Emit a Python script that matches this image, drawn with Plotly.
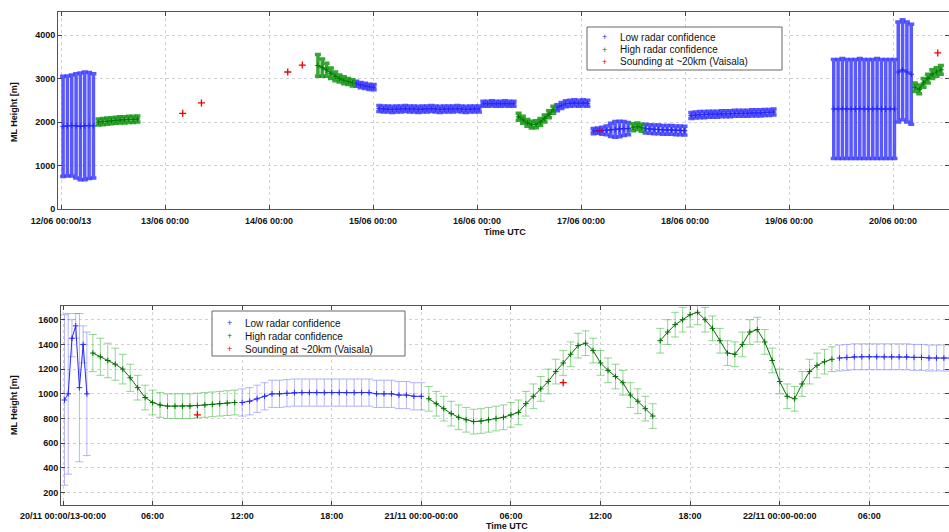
import plotly.graph_objects as go

# ---------------- DATA ----------------
# Top panel: time in days since 12/06 00:00, ML height [m]
TOP_TICK_VALS = [0, 1, 2, 3, 4, 5, 6, 7, 8]
TOP_TICK_TEXT = ["12/06 00:00/13", "13/06 00:00", "14/06 00:00", "15/06 00:00",
                 "16/06 00:00", "17/06 00:00", "18/06 00:00", "19/06 00:00", "20/06 00:00"]
TOP_STEP = 1.0 / 24.0  # radar samples, hourly

# segments: (start_day, values, errors)
top_low = [
    (0.02, [1900, 1910, 1920, 1910, 1900, 1910, 1920, 1910],
           [1150, 1150, 1160, 1200, 1230, 1240, 1220, 1200]),
    (2.84, [2880, 2850, 2830, 2810, 2800], [60, 60, 60, 60, 60]),
    (3.06, [2310, 2300, 2300, 2290, 2300, 2300, 2310, 2300, 2300, 2290, 2300, 2300,
            2310, 2300, 2290, 2300, 2300, 2300, 2310, 2300, 2290, 2300, 2300, 2300],
           [70] * 24),
    (4.06, [2420, 2420, 2430, 2420, 2420, 2430, 2420, 2420], [60] * 8),
    (4.77, [2330, 2380, 2420, 2430, 2440, 2430, 2440, 2430], [70] * 8),
    (5.12, [1790, 1800, 1800, 1810, 1820, 1830, 1840, 1850, 1850],
           [60, 60, 80, 100, 150, 180, 180, 160, 140]),
    (5.62, [1850, 1840, 1830, 1830, 1820, 1820, 1820, 1810, 1810, 1800], [100] * 10),
    (6.06, [2150, 2160, 2170, 2170, 2180, 2180, 2180, 2190, 2190, 2190,
            2200, 2200, 2200, 2200, 2210, 2210, 2210, 2220, 2220, 2230], [70] * 20),
    (7.43, [2300, 2300, 2310, 2300, 2300, 2300, 2310, 2300, 2300, 2300, 2310, 2300,
            2300, 2300, 2300],
           [1140, 1140, 1150, 1140, 1140, 1140, 1150, 1140, 1140, 1140, 1150, 1140,
            1140, 1140, 1140]),
    (8.05, [3150, 3200, 3150, 3100], [1150, 1150, 1150, 1150]),
]
top_high = [
    (0.36, [2000, 2010, 2020, 2030, 2040, 2050, 2050, 2060, 2060, 2070], [70] * 10),
    (2.47, [3300, 3250, 3200, 3120, 3050, 3000, 2960, 2930, 2900],
           [250, 200, 150, 120, 100, 80, 80, 70, 70]),
    (4.40, [2120, 2050, 1980, 1940, 1950, 2000, 2080, 2180, 2280], [80] * 9),
    (5.50, [1880, 1900, 1870], [80, 80, 80]),
    (8.21, [2800, 2750, 2900, 3000, 3100, 3150, 3200], [100] * 7),
]
top_sound_t = [1.17, 1.35, 2.18, 2.32, 5.18, 8.43]
top_sound_v = [2200, 2440, 3150, 3310, 1790, 3590]

# Bottom panel: time in hours since 20/11 00:00
BOT_TICK_VALS = [0, 6, 12, 18, 24, 30, 36, 42, 48, 54]
BOT_TICK_TEXT = ["20/11 00:00/13-00:00", "06:00", "12:00", "18:00", "21/11 00:00-00:00",
                 "06:00", "12:00", "18:00", "22/11 00:00-00:00", "06:00"]

# segments: (start_h, step_h, values, errors)
bot_low = [
    (0.1, 0.25, [950, 1000, 1450, 1550, 1050, 1400, 1000],
                [690, 650, 150, 100, 600, 150, 500]),
    (12.0, 0.5, [930, 940, 960, 980, 1000, 1000, 1005, 1010, 1010, 1010, 1010, 1010, 1010,
                 1010, 1010, 1010, 1010, 1010, 1000, 1000, 1000, 990, 990, 980, 980],
                [110] * 25),
    (52.0, 0.5, [1290, 1295, 1300, 1300, 1300, 1300, 1300, 1300, 1300, 1300, 1295, 1295,
                 1290, 1290, 1290, 1290], [105] * 16),
]
bot_high = [
    (2.0, 0.5, [1330, 1300, 1270, 1240, 1200, 1130, 1050, 970, 930, 910, 900, 900, 900,
                900, 905, 910, 915, 920, 925, 930],
               [150, 150, 140, 130, 120, 110, 100, 100, 100, 100, 100, 100, 100, 100,
                100, 100, 100, 100, 100, 100]),
    (24.5, 0.5, [960, 920, 880, 840, 810, 790, 775, 780, 790, 800, 810, 830, 850, 920, 980,
                 1040, 1100, 1180, 1250, 1320, 1390, 1410, 1350, 1250, 1190, 1140, 1090, 990,
                 940, 880, 820],
                [100] * 31),
    (40.0, 0.5, [1430, 1500, 1560, 1600, 1640, 1660, 1600, 1530, 1430, 1330,
                 1320, 1400, 1500, 1520, 1420, 1270, 1100, 980, 960, 1080, 1180, 1230, 1260,
                 1280],
                [100] * 24),
]
bot_sound_t = [9.0, 33.5]
bot_sound_v = [830, 1090]

LEGEND_NAMES = ["Low radar confidence", "High radar confidence", "Sounding at ~20km (Vaisala)"]

# ---------------- BUILD ----------------
def build(segs, step=None):
    xs, ys, es = [], [], []
    for seg in segs:
        if step is None:
            t0, st, vals, errs = seg
        else:
            t0, vals, errs = seg
            st = step
        for i, v in enumerate(vals):
            xs.append(t0 + i * st)
            ys.append(v)
            es.append(errs[i])
        xs.append(None); ys.append(None); es.append(0)
    return xs, ys, es

fig = go.Figure()

def add_series(x, y, e, xa, ya, color, ecolor, thick, capw, lw, msize):
    fig.add_trace(go.Scatter(
        x=x, y=y, mode="lines+markers", xaxis=xa, yaxis=ya,
        line=dict(color=color, width=lw),
        marker=dict(symbol="cross-thin", size=msize, line=dict(color=color, width=1)),
        error_y=dict(type="data", array=e, symmetric=True, color=ecolor,
                     thickness=thick, width=capw),
        showlegend=False, connectgaps=False, hoverinfo="skip"))

BLUE = "rgb(40,40,250)"
GREEN = "rgb(0,128,0)"
RED = "rgb(230,0,0)"

x, y, e = build(top_low, TOP_STEP)
add_series(x, y, e, "x", "y", BLUE, "rgba(60,60,255,0.85)", 3.5, 3, 1.2, 4)
x, y, e = build(top_high, TOP_STEP)
add_series(x, y, e, "x", "y", GREEN, "rgba(20,150,20,0.85)", 3.5, 3, 1.2, 4)
fig.add_trace(go.Scatter(x=top_sound_t, y=top_sound_v, mode="markers", xaxis="x", yaxis="y",
                         marker=dict(symbol="cross-thin", size=5, line=dict(color=RED, width=1.3)),
                         showlegend=False, hoverinfo="skip"))

x, y, e = build(bot_low)
add_series(x, y, e, "x2", "y2", BLUE, "rgba(120,120,255,0.55)", 1, 4, 1, 4)
x, y, e = build(bot_high)
add_series(x, y, e, "x2", "y2", "rgb(0,110,0)", "rgba(60,180,60,0.55)", 1, 4, 1, 4)
fig.add_trace(go.Scatter(x=bot_sound_t, y=bot_sound_v, mode="markers", xaxis="x2", yaxis="y2",
                         marker=dict(symbol="cross-thin", size=5, line=dict(color=RED, width=1.3)),
                         showlegend=False, hoverinfo="skip"))

W, H = 949, 532
FONT = dict(family="Liberation Sans, Arial, sans-serif", size=9, color="#111")
TICKFONT = dict(family="Liberation Sans, Arial, sans-serif", size=9, color="#111", weight="bold")
LEGFONT = dict(family="Liberation Sans, Arial, sans-serif", size=10, color="#111")

axis_common = dict(ticks="inside", ticklen=4, tickcolor="#444", showline=True, mirror="ticks",
                   linecolor="#555", linewidth=1, showgrid=True, gridcolor="#d2d2d2",
                   griddash="dot", zeroline=False, tickfont=TICKFONT, automargin=False)

def px(xp):
    return xp / W

def py(yp):
    return 1 - yp / H

# manual legends (box, markers, labels) in paper coordinates
shapes = []
annotations = []
for (bx0, by0, bx1, by1, mx, tx, rows) in (
        (587, 27, 782, 70, 604, 618, [37, 49.5, 62]),
        (212, 311, 405, 356, 229, 243, [323, 336, 349])):
    shapes.append(dict(type="rect", xref="paper", yref="paper",
                       x0=px(bx0), x1=px(bx1), y0=py(by1), y1=py(by0),
                       line=dict(color="#666", width=1), fillcolor="white", layer="above"))
    for name, col, ry in zip(LEGEND_NAMES, [BLUE, GREEN, RED], rows):
        annotations.append(dict(text="+", x=px(mx), y=py(ry), xref="paper", yref="paper",
                                xanchor="center", yanchor="middle", showarrow=False,
                                font=dict(family="Liberation Sans, Arial", size=9, color=col)))
        annotations.append(dict(text=name, x=px(tx), y=py(ry), xref="paper", yref="paper",
                                xanchor="left", yanchor="middle", showarrow=False,
                                font=LEGFONT))

TITLEFONT = dict(family="Liberation Sans, Arial, sans-serif", size=9, color="#111", weight="bold")
annotations += [
    dict(text="ML Height [m]", x=px(14), y=py(112), xref="paper", yref="paper",
         xanchor="center", yanchor="middle", textangle=-90, showarrow=False, font=TITLEFONT),
    dict(text="ML Height [m]", x=px(14), y=py(405), xref="paper", yref="paper",
         xanchor="center", yanchor="middle", textangle=-90, showarrow=False, font=TITLEFONT),
    dict(text="Time UTC", x=px(505), y=py(232), xref="paper", yref="paper",
         xanchor="center", yanchor="middle", showarrow=False, font=TITLEFONT),
    dict(text="Time UTC", x=px(507), y=py(526), xref="paper", yref="paper",
         xanchor="center", yanchor="middle", showarrow=False, font=TITLEFONT),
]

fig.update_layout(
    width=W, height=H, margin=dict(l=0, r=0, t=0, b=0, autoexpand=False),
    paper_bgcolor="white", plot_bgcolor="white", font=FONT, showlegend=False,
    xaxis=dict(domain=[58 / W, 1.0], anchor="y", range=[-0.029, 8.538],
               tickvals=TOP_TICK_VALS, ticktext=TOP_TICK_TEXT, ticklabelstandoff=3,
               **axis_common),
    yaxis=dict(domain=[1 - 209 / H, 1 - 12 / H], anchor="x", range=[0, 4530],
               tickvals=[0, 1000, 2000, 3000, 4000], **axis_common),
    xaxis2=dict(domain=[61 / W, 1.0], anchor="y2", range=[-0.134, 59.34],
                tickvals=BOT_TICK_VALS, ticktext=BOT_TICK_TEXT, ticklabelstandoff=2,
                **axis_common),
    yaxis2=dict(domain=[1 - 505 / H, 1 - 306 / H], anchor="x2", range=[100, 1711],
                tickvals=[200, 400, 600, 800, 1000, 1200, 1400, 1600], **axis_common),
    shapes=shapes,
    annotations=annotations,
)

fig.write_html("out.html")
